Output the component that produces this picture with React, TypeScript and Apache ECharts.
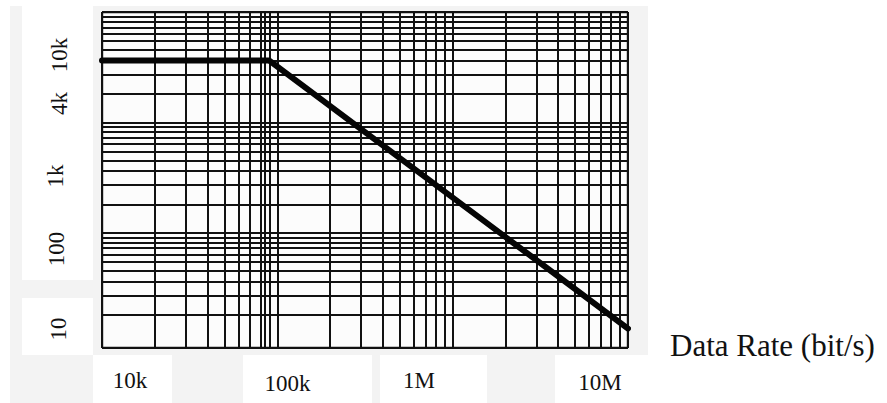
import React, { useEffect, useRef } from 'react';
import * as echarts from 'echarts';

// ---- data ----
const xTickLabels = ['10k', '100k', '1M', '10M'];
const yTickLabels = ['10k', '4k', '1k', '100', '10'];
const axisTitle = 'Data Rate (bit/s)';

// cable length vs data rate
const dataRate = [10000, 90000, 10000000];
const cableLength = [4000, 4000, 15];

// log-paper grid lines
const xGridValues = [
  10000, 20000, 30000, 40000, 50000, 60000, 70000, 80000, 85000, 90000,
  100000, 200000, 300000, 400000, 500000, 600000, 700000, 800000, 900000,
  1000000, 2000000, 3000000, 4000000, 5000000, 6000000, 7000000, 8000000, 9000000,
  10000000,
];
const yGridValues = [
  10, 20, 30, 40, 50, 60, 70, 80, 90,
  100, 110, 200, 300, 400, 500, 600, 700, 800, 900,
  1000, 1100, 2000, 3000, 4000, 5000, 6000, 7000, 8000, 9000,
  10000, 11000,
];

const X_MIN = 10000;
const X_MAX = 10000000;
const Y_MIN = 10;
const Y_MAX = 11000;

// ---- layout (pixels) ----
const X_LABEL_POS: [number, number][] = [[130, 380], [287.5, 383], [419, 380], [600, 382]];
const Y_LABEL_POS: [number, number][] = [[59, 55], [59, 103.5], [55, 176], [56, 249], [58.5, 329]];
const FONT = '"Liberation Serif", "DejaVu Serif", serif';
const SHADE = '#f3f3f3';

export default function App() {
  const ref = useRef<HTMLDivElement>(null);

  useEffect(() => {
    if (!ref.current) return;
    const chart = echarts.init(ref.current, null, { renderer: 'svg' });

    const gridLines: any[] = [];
    xGridValues.forEach((v) => {
      const border = v === X_MIN || v === X_MAX;
      gridLines.push({
        coords: [[v, Y_MIN], [v, Y_MAX]],
        lineStyle: { width: border ? 2.4 : 2 },
      });
    });
    yGridValues.forEach((v) => {
      const border = v === Y_MIN || v === Y_MAX;
      gridLines.push({
        coords: [[X_MIN, v], [X_MAX, v]],
        lineStyle: { width: border ? 2.4 : 1.9 },
      });
    });

    const shadeRects = [
      [10, 6, 12, 397],
      [93, 6, 555, 349],
      [22, 280, 71, 18],
      [10, 355, 83, 48],
      [172, 355, 71, 48],
      [372, 355, 8, 48],
      [487, 355, 68, 48],
    ];

    const graphics: any[] = [];
    shadeRects.forEach(([x, y, w, h]) => {
      graphics.push({ type: 'rect', z: 0, silent: true, shape: { x, y, width: w, height: h }, style: { fill: SHADE } });
    });
    graphics.push({ type: 'rect', z: 0, silent: true, shape: { x: 102, y: 12, width: 526, height: 336 }, style: { fill: '#fcfcfc' } });

    const textStyle = (text: string, size: number) => ({
      text,
      fontSize: size,
      fontFamily: FONT,
      fill: '#111',
      align: 'center',
      verticalAlign: 'middle',
      textAlign: 'center',
      textVerticalAlign: 'middle',
    });

    xTickLabels.forEach((t, i) => {
      graphics.push({ type: 'text', z: 1, x: X_LABEL_POS[i][0], y: X_LABEL_POS[i][1], style: textStyle(t, 23) });
    });
    yTickLabels.forEach((t, i) => {
      graphics.push({
        type: 'text', z: 1, x: Y_LABEL_POS[i][0], y: Y_LABEL_POS[i][1], rotation: Math.PI / 2,
        style: textStyle(t, 23),
      });
    });
    graphics.push({
      type: 'text', z: 1, x: 670, y: 345,
      style: { ...textStyle(axisTitle, 31), align: 'left', textAlign: 'left' },
    });

    chart.setOption({
      animation: false,
      backgroundColor: '#ffffff',
      grid: { left: 102, top: 12, width: 526, height: 336, containLabel: false },
      xAxis: {
        type: 'log', logBase: 10, min: X_MIN, max: X_MAX,
        axisLine: { show: false }, axisTick: { show: false }, axisLabel: { show: false }, splitLine: { show: false },
      },
      yAxis: {
        type: 'log', logBase: 10, min: Y_MIN, max: Y_MAX,
        axisLine: { show: false }, axisTick: { show: false }, axisLabel: { show: false }, splitLine: { show: false },
      },
      graphic: graphics,
      series: [
        {
          type: 'lines',
          coordinateSystem: 'cartesian2d',
          silent: true,
          z: 2,
          lineStyle: { color: '#111111', width: 2, opacity: 1, curveness: 0 },
          data: gridLines,
        },
        {
          type: 'line',
          z: 5,
          silent: true,
          clip: false,
          symbol: 'none',
          data: dataRate.map((x, i) => [x, cableLength[i]]),
          lineStyle: { color: '#050505', width: 6, cap: 'round', join: 'round' },
        },
      ],
    });

    return () => chart.dispose();
  }, []);

  return <div ref={ref} style={{ position: 'fixed', left: 0, top: 0, width: 887, height: 403 }} />;
}
